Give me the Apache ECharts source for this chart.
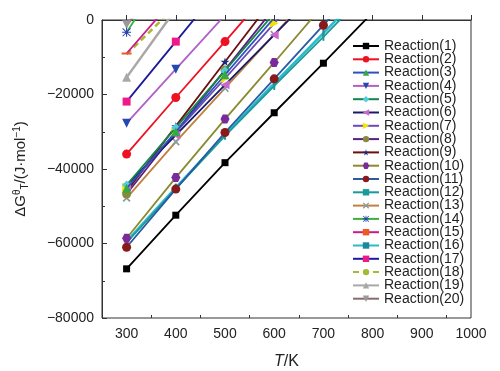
<!DOCTYPE html>
<html><head><meta charset="utf-8">
<script src="https://cdn.jsdelivr.net/npm/echarts@6/dist/echarts.min.js"></script>
<style>html,body{margin:0;padding:0;background:#fff}#c{width:500px;height:371px}</style>
</head><body><div id="c"></div>
<script>
const temps = [300, 400, 500, 600, 700, 800];
const xTickLabels = [300, 400, 500, 600, 700, 800, 900, 1000];
const yTickLabels = [0, -20000, -40000, -60000, -80000];
const names = ["Reaction(1)","Reaction(2)","Reaction(3)","Reaction(4)","Reaction(5)","Reaction(6)","Reaction(7)","Reaction(8)","Reaction(9)","Reaction(10)","Reaction(11)","Reaction(12)","Reaction(13)","Reaction(14)","Reaction(15)","Reaction(16)","Reaction(17)","Reaction(18)","Reaction(19)","Reaction(20)"];
const r1 = [-66800, -52400, -38300, -24900, -11600, 2000];
const r2 = [-36000, -20800, -5800, 9400];
const r3 = [-45200, -30000, -14700, 600];
const r4 = [-27700, -13200, 1300];
const r5 = [-44300, -28900, -13600, 1800];
const r6 = [-44400, -30900, -17400, -4000, 9500];
const r7 = [-44900, -30200, -15700, -900, 13800];
const r8 = [-46700, -30000, -13400, 3200];
const r9 = [-46000, -28500, -11200, 6000];
const r10 = [-58600, -42300, -26600, -11400, 4000];
const r11 = [-61000, -45400, -30200, -15800, -1400, 13000];
const r12 = [-59800, -45300, -31100, -17700, -4500, 9000];
const r13 = [-47800, -32700, -18300, -3900, 10500];
const r14 = [-3300, 17000];
const r15 = [-9000, 6200];
const r16 = [-59400, -45000, -30800, -17000, -3500, 10000];
const r17 = [-21900, -5800, 10300];
const r18 = [-9200, 3700];
const r19 = [-15400, 2900];
const r20 = [-1300, 14000];
const values = [r1,r2,r3,r4,r5,r6,r7,r8,r9,r10,r11,r12,r13,r14,r15,r16,r17,r18,r19,r20];

const STAR = 'path://M50,0 L61,35 L98,35 L68,57 L79,91 L50,70 L21,91 L32,57 L2,35 L39,35 Z';
const XS = 'path://M0,15 L15,0 L50,35 L85,0 L100,15 L65,50 L100,85 L85,100 L50,65 L15,100 L0,85 L35,50 Z';
const AST = 'path://M44,0h12v100h-12z M0,44h100v12h-100z M10,2 L98,90 L90,98 L2,10Z M90,2 L98,10 L10,98 L2,90Z';
const HEX = 'path://M25,0 L75,0 L100,50 L75,100 L25,100 L0,50 Z';

const styles = [
  {line:'#000000', mk:'#000000', sym:'rect', size:7},
  {line:'#ee1122', mk:'#ee1122', sym:'circle', size:9},
  {line:'#3050c0', mk:'#33aa44', sym:'triangle', size:9},
  {line:'#b060c8', mk:'#2448b0', sym:'triangle', size:9, rot:180},
  {line:'#11884a', mk:'#55ccdd', sym:'diamond', size:9},
  {line:'#1a1a66', mk:'#cc66cc', sym:'triangle', size:9, rot:90},
  {line:'#6a4ab8', mk:'#f2e600', sym:'triangle', size:9, rot:-90},
  {line:'#5a2080', mk:'#8a8a3a', sym:'circle', size:9},
  {line:'#6a1010', mk:'#1a2a80', sym:STAR, size:9},
  {line:'#8a8a30', mk:'#7a2a9a', sym:HEX, size:9},
  {line:'#2a5aa0', mk:'#8a1a1a', sym:'circle', size:9},
  {line:'#1a9a9a', mk:'#1a9a9a', sym:'rect', size:[2,8]},
  {line:'#c08040', mk:'#8a9aa0', sym:XS, size:8},
  {line:'#3ab040', mk:'#2040b0', sym:AST, size:9},
  {line:'#cc1a8a', mk:'#ee5a20', sym:'rect', size:[10,2]},
  {line:'#2abaca', mk:'#1a8a9a', sym:'rect', size:[2,8], w:2.5},
  {line:'#1a1a9a', mk:'#ee1a8a', sym:'rect', size:8},
  {line:'#a8b830', mk:'#a8b830', sym:'none', size:0, dash:true, w:2.5},
  {line:'#a8a8a8', mk:'#a8a8a8', sym:'triangle', size:9, w:2.5},
  {line:'#8a6a6a', mk:'#9a9a9a', sym:'triangle', size:9, rot:180, w:2.5}
];

const series = values.map((vals, k) => {
  const s = styles[k];
  return {
    name: names[k],
    type: 'line',
    data: vals.map((v, i) => [temps[i], v]),
    symbol: s.sym,
    symbolSize: s.size,
    symbolRotate: s.rot || 0,
    symbolKeepAspect: true,
    showAllSymbol: true,
    clip: true,
    lineStyle: {color: s.line, width: s.w || 1.8, type: s.dash ? [6,4] : 'solid'},
    itemStyle: {color: s.mk, borderColor: s.mk, borderWidth: 0},
    emphasis: {disabled: true},
    animation: false,
    z: 20 - k
  };
});

const chart = echarts.init(document.getElementById('c'), null, {renderer: 'canvas'});
const axisColor = '#333';
chart.setOption({
  backgroundColor: '#fff',
  animation: false,
  textStyle: {fontFamily: 'Liberation Sans, Arial, sans-serif'},
  grid: {left: 102, right: 29, top: 20, bottom: 53, show: true, borderColor: axisColor, borderWidth: 1,
         containLabel: false, outerBoundsMode: 'none'},
  legend: {
    orient: 'vertical', left: 347, top: 34,
    itemWidth: 26, itemHeight: 8, itemGap: -0.7,
    textStyle: {fontSize: 14, color: '#222', lineHeight: 13, fontFamily: 'Liberation Sans, Arial, sans-serif'},
    data: names
  },
  xAxis: [{
    type: 'value', min: 250, max: 1000,
    name: '{i|T}/K', nameLocation: 'middle', nameGap: 36,
    nameTextStyle: {fontSize: 16, color: '#222', rich: {i: {fontStyle: 'italic', fontSize: 16, color: '#222'}}},
    axisLine: {lineStyle: {color: axisColor}},
    axisTick: {inside: true, length: 5, customValues: xTickLabels, lineStyle: {color: axisColor}},
    axisLabel: {fontSize: 14, color: '#222', margin: 9, customValues: xTickLabels, formatter: v => String(v)},
    splitLine: {show: false}
  }, {
    type: 'value', min: 250, max: 1000, position: 'bottom',
    axisLine: {show: false},
    axisTick: {inside: true, length: 3, customValues: [350,450,550,650,750,850,950], lineStyle: {color: axisColor}},
    axisLabel: {show: false},
    splitLine: {show: false}
  }],
  yAxis: {
    type: 'value', min: -80000, max: 0, interval: 20000,
    name: '{n|ΔG}{sup|θ}{sub|T}{n|/(J·mol}{sup|−1}{n|)}',
    nameLocation: 'middle', nameRotate: 90, nameGap: 72,
    nameTextStyle: {color: '#222', rich: {
      n: {fontSize: 15, color: '#222', verticalAlign: 'middle'},
      sup: {fontSize: 10, color: '#222', verticalAlign: 'top', lineHeight: 18},
      sub: {fontSize: 10, color: '#222', verticalAlign: 'bottom', lineHeight: 18}
    }},
    axisLine: {show: true, lineStyle: {color: axisColor}},
    axisTick: {show: true, inside: true, length: 5, lineStyle: {color: axisColor}},
    minorTick: {show: true, splitNumber: 2, length: 3, lineStyle: {color: axisColor}},
    axisLabel: {fontSize: 14, color: '#222', margin: 8,
      formatter: v => v === 0 ? '0' : (v < 0 ? '\u2212' + Math.abs(v) : String(v))},
    splitLine: {show: false}
  },
  series: series
});
</script></body></html>
